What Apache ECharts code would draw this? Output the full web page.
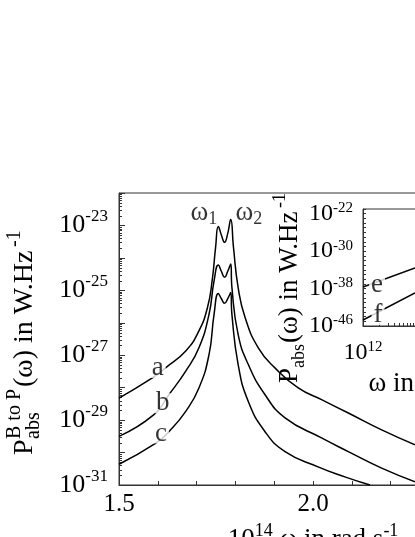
<!DOCTYPE html>
<html>
<head>
<meta charset="utf-8">
<script src="https://cdn.jsdelivr.net/npm/echarts@6/dist/echarts.min.js"></script>
<style>
  html, body { margin: 0; padding: 0; background: #fff; }
  #chart { width: 415px; height: 537px; }
</style>
</head>
<body>
<div id="chart"></div>
<script>
// main panel: omega in 10^14 rad/s, curves given as log10 of P (W/Hz)
const omegaA = [1.500, 1.586, 1.620, 1.672, 1.706, 1.728, 1.740, 1.749, 1.756, 1.764, 1.772, 1.780, 1.788, 1.795, 1.807, 1.825, 1.859, 1.902, 1.962, 2.022, 2.091, 2.177, 2.263];
const logPA  = [-28.32, -27.70, -27.39, -26.87, -26.25, -25.53, -24.71, -23.67, -23.03, -23.30, -23.52, -23.26, -22.82, -23.67, -24.91, -25.84, -26.77, -27.39, -28.01, -28.37, -28.78, -29.30, -29.76];

const omegaB = [1.500, 1.590, 1.629, 1.672, 1.706, 1.732, 1.745, 1.756, 1.764, 1.772, 1.780, 1.788, 1.791, 1.807, 1.833, 1.876, 1.928, 2.022, 2.091, 2.177, 2.263];
const logPB  = [-29.50, -28.83, -28.21, -27.49, -26.77, -25.74, -24.71, -24.22, -24.42, -24.60, -24.42, -24.19, -24.91, -26.36, -27.28, -28.21, -28.93, -29.55, -29.97, -30.48, -30.90];

const omegaC = [1.500, 1.595, 1.629, 1.672, 1.706, 1.732, 1.745, 1.756, 1.764, 1.772, 1.780, 1.788, 1.791, 1.807, 1.833, 1.876, 1.928, 2.013, 2.082, 2.147];
const logPC  = [-30.36, -29.71, -29.35, -28.73, -28.01, -26.98, -25.74, -25.10, -25.26, -25.40, -25.26, -25.07, -25.74, -27.28, -28.42, -29.35, -29.97, -30.44, -30.75, -31.00];

// inset: log10 omega (rad/s) vs log10 P
const insetLogOmega = [12, 13];
const logPE = [-37.67, -33.60];
const logPF = [-44.72, -38.95];

// annotations
const curveNames  = ['a', 'b', 'c'];
const curveNameX  = [1.600, 1.613, 1.608];
const curveNameY  = [-27.39, -28.48, -29.41];
const peakNames   = ['1', '2'];
const peakNameX   = [1.719, 1.835];
const peakNameY   = [-22.61, -22.61];
const insetNames  = ['e', 'f'];
const insetNameX  = [12.27, 12.29];
const insetNameY  = [-37.24, -43.65];

// axes
const xMin = 1.5, xMax = 2.5;
const yMin = -31, yMax = -22;
const ixMin = 12, ixMax = 14.5;
const iyMin = -46, iyMax = -21;

// log minor ticks (2..9 in every decade)
const yMinorTicks = [];
for (let n = yMin; n < yMax; n++) {
  for (let k = 2; k <= 9; k++) yMinorTicks.push(n + Math.log10(k));
}
const ixMinorTicks = [];
for (let n = ixMin; n < Math.floor(ixMax); n++) {
  for (let k = 2; k <= 9; k++) ixMinorTicks.push(n + Math.log10(k));
}

const FONT = 'Liberation Serif';
const INK = '#000';
const AXIS = '#333';

function zip(xs, ys) { return xs.map((x, i) => [x, ys[i]]); }

const chart = echarts.init(document.getElementById('chart'));

chart.setOption({
  animation: false,
  textStyle: { fontFamily: FONT, color: INK },
  grid: [
    { left: 119, top: 193, width: 388, height: 292, show: true, borderColor: AXIS, borderWidth: 1, outerBoundsMode: 'none' },
    { left: 363, top: 209, width: 130, height: 117, show: true, borderColor: AXIS, borderWidth: 1, outerBoundsMode: 'none' }
  ],
  xAxis: [
    {
      gridIndex: 0, type: 'value', min: xMin, max: xMax, interval: 0.1,
      axisLine: { lineStyle: { color: AXIS } },
      axisTick: { inside: true, length: 4, lineStyle: { color: AXIS } },
      splitLine: { show: false },
      axisLabel: {
        margin: 7, fontSize: 25, color: INK, fontFamily: FONT,
        formatter: v => (Math.abs(v * 2 - Math.round(v * 2)) < 1e-6 ? v.toFixed(1) : '')
      },
      name: '{b|10}{s|14}{b| ω in rad.s}{s|-1}',
      nameLocation: 'middle', nameGap: 37,
      nameTextStyle: {
        rich: {
          b: { fontSize: 27, fontFamily: FONT, color: INK, lineHeight: 36 },
          s: { fontSize: 18, fontFamily: FONT, color: INK, lineHeight: 18, verticalAlign: 'top' }
        }
      }
    },
    {
      gridIndex: 1, type: 'value', min: ixMin, max: ixMax, interval: 1,
      axisLine: { lineStyle: { color: AXIS } },
      axisTick: { inside: true, length: 5, lineStyle: { color: AXIS } },
      splitLine: { show: false },
      axisLabel: {
        margin: 14,
        formatter: v => (v === ixMin ? '{b|10}{s|' + v + '}' : ''),
        rich: {
          b: { fontSize: 24, fontFamily: FONT, color: INK, lineHeight: 26 },
          s: { fontSize: 15, fontFamily: FONT, color: INK, lineHeight: 15, verticalAlign: 'top' }
        }
      },
      name: '{b|ω in rad.s}{s|-1}',
      nameLocation: 'middle', nameGap: 21,
      nameTextStyle: {
        rich: {
          b: { fontSize: 27, fontFamily: FONT, color: INK, lineHeight: 36 },
          s: { fontSize: 18, fontFamily: FONT, color: INK, lineHeight: 18, verticalAlign: 'top' }
        }
      }
    }
  ],
  yAxis: [
    {
      gridIndex: 0, type: 'value', min: yMin, max: yMax, interval: 1,
      axisLine: { lineStyle: { color: AXIS } },
      axisTick: { inside: true, length: 6, lineStyle: { color: AXIS } },
      splitLine: { show: false },
      axisLabel: {
        margin: 11,
        formatter: v => (Math.abs(v) % 2 === 1 && v !== yMax ? '{b|10}{s|' + v + '}' : ''),
        rich: {
          b: { fontSize: 26, fontFamily: FONT, color: INK, lineHeight: 34 },
          s: { fontSize: 17, fontFamily: FONT, color: INK, lineHeight: 17, verticalAlign: 'top' }
        }
      }
    },
    {
      gridIndex: 1, type: 'value', min: iyMin, max: iyMax, interval: 1,
      axisLine: { lineStyle: { color: AXIS } },
      axisTick: { inside: true, length: 3, lineStyle: { color: AXIS } },
      splitLine: { show: false },
      axisLabel: {
        margin: 10,
        formatter: v => ((v - iyMin) % 8 === 0 ? '{b|10}{s|' + v + '}' : ''),
        rich: {
          b: { fontSize: 24, fontFamily: FONT, color: INK, lineHeight: 26 },
          s: { fontSize: 15, fontFamily: FONT, color: INK, lineHeight: 15, verticalAlign: 'top' }
        }
      }
    }
  ],
  graphic: [
    {
      // main y title, reads bottom to top
      type: 'group', x: 25, y: 455, rotation: Math.PI / 2,
      children: [
        { type: 'text', x: 0, y: 0, style: { text: 'P', font: '28px "Liberation Serif"', fill: INK, verticalAlign: 'middle' } },
        { type: 'text', x: 16, y: 9, style: { text: 'abs', font: '20px "Liberation Serif"', fill: INK, verticalAlign: 'middle' } },
        { type: 'text', x: 16, y: -10, style: { text: 'B to P', font: '20px "Liberation Serif"', fill: INK, verticalAlign: 'middle' } },
        { type: 'text', x: 68, y: 0, style: { text: '(ω) in W.Hz', font: '28px "Liberation Serif"', fill: INK, verticalAlign: 'middle' } },
        { type: 'text', x: 208, y: -10, style: { text: '-1', font: '20px "Liberation Serif"', fill: INK, verticalAlign: 'middle' } }
      ]
    },
    {
      // inset y title
      type: 'group', x: 290, y: 383, rotation: Math.PI / 2,
      children: [
        { type: 'text', x: 0, y: 0, style: { text: 'P', font: '27px "Liberation Serif"', fill: INK, verticalAlign: 'middle' } },
        { type: 'text', x: 15, y: 9, style: { text: 'abs', font: '18px "Liberation Serif"', fill: INK, verticalAlign: 'middle' } },
        { type: 'text', x: 40, y: 0, style: { text: '(ω) in W.Hz', font: '27px "Liberation Serif"', fill: INK, verticalAlign: 'middle' } },
        { type: 'text', x: 175, y: -10, style: { text: '-1', font: '18px "Liberation Serif"', fill: INK, verticalAlign: 'middle' } }
      ]
    }
  ],
  series: [
    { type: 'line', xAxisIndex: 0, yAxisIndex: 0, data: zip(omegaA, logPA), symbol: 'none', smooth: 0.5, lineStyle: { color: INK, width: 1.5 } },
    { type: 'line', xAxisIndex: 0, yAxisIndex: 0, data: zip(omegaB, logPB), symbol: 'none', smooth: 0.5, lineStyle: { color: INK, width: 1.5 } },
    { type: 'line', xAxisIndex: 0, yAxisIndex: 0, data: zip(omegaC, logPC), symbol: 'none', smooth: 0.5, lineStyle: { color: INK, width: 1.5 } },
    { type: 'line', xAxisIndex: 1, yAxisIndex: 1, data: zip(insetLogOmega, logPE), symbol: 'none', lineStyle: { color: INK, width: 1.5 } },
    { type: 'line', xAxisIndex: 1, yAxisIndex: 1, data: zip(insetLogOmega, logPF), symbol: 'none', lineStyle: { color: INK, width: 1.5 } },
    {
      // log minor ticks on the main y axis
      type: 'custom', xAxisIndex: 0, yAxisIndex: 0, silent: true,
      data: yMinorTicks.map(v => [xMin, v]),
      renderItem: (params, api) => {
        const p = api.coord([api.value(0), api.value(1)]);
        const y = Math.round(p[1]) + 0.5;
        return { type: 'line', shape: { x1: p[0], y1: y, x2: p[0] + 3, y2: y }, style: { stroke: AXIS, lineWidth: 1 } };
      }
    },
    {
      // log minor ticks on the inset x axis
      type: 'custom', xAxisIndex: 1, yAxisIndex: 1, silent: true,
      data: ixMinorTicks.map(v => [v, iyMin]),
      renderItem: (params, api) => {
        const p = api.coord([api.value(0), api.value(1)]);
        const x = Math.round(p[0]) + 0.5;
        return { type: 'line', shape: { x1: x, y1: p[1], x2: x, y2: p[1] - 3 }, style: { stroke: AXIS, lineWidth: 1 } };
      }
    },
    {
      type: 'scatter', xAxisIndex: 0, yAxisIndex: 0, z: 10, symbolSize: 0, silent: true,
      data: curveNames.map((n, i) => ({ name: n, value: [curveNameX[i], curveNameY[i]] })),
      label: {
        show: true, position: 'inside', formatter: '{b}', fontSize: 27, fontFamily: FONT, color: INK,
        lineHeight: 20, backgroundColor: '#fff', padding: [0, 2]
      }
    },
    {
      type: 'scatter', xAxisIndex: 0, yAxisIndex: 0, z: 10, symbolSize: 0, silent: true,
      data: peakNames.map((n, i) => ({ name: n, value: [peakNameX[i], peakNameY[i]] })),
      label: {
        show: true, position: 'inside',
        formatter: p => '{w|ω}{u|' + p.name + '}',
        rich: {
          w: { fontSize: 27, fontFamily: FONT, color: INK, lineHeight: 30 },
          u: { fontSize: 18, fontFamily: FONT, color: INK, lineHeight: 18, verticalAlign: 'bottom' }
        }
      }
    },
    {
      type: 'scatter', xAxisIndex: 1, yAxisIndex: 1, z: 10, symbolSize: 0, silent: true,
      data: insetNames.map((n, i) => ({ name: n, value: [insetNameX[i], insetNameY[i]] })),
      label: {
        show: true, position: 'inside', formatter: '{b}', fontSize: 27, fontFamily: FONT, color: INK,
        lineHeight: 20, backgroundColor: '#fff', padding: [0, 2]
      }
    }
  ]
});
</script>
</body>
</html>
